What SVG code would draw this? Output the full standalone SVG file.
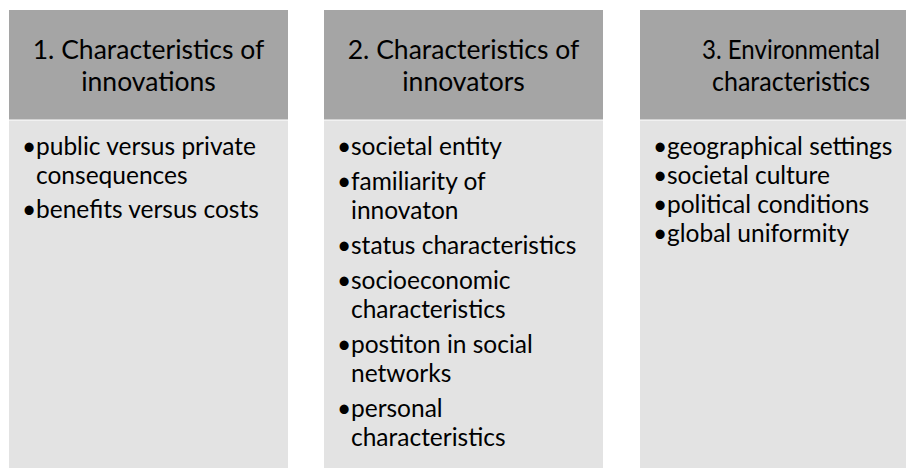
<svg xmlns="http://www.w3.org/2000/svg" width="906" height="468" viewBox="0 0 906 468">
<style>
.hd{fill:#a5a5a5}
.bd{fill:#e3e3e3}
.ht{font-family:Lato,"Open Sans","Liberation Sans",sans-serif;font-size:26.5px;fill:#000;text-anchor:middle}
.bt{font-family:Lato,"Open Sans","Liberation Sans",sans-serif;font-size:24.5px;fill:#000}
</style>
<rect width="906" height="468" fill="#ffffff"/>
<g id="col1">
<rect class="hd" x="9" y="10" width="279" height="109.5"/>
<rect class="bd" x="9" y="120.5" width="279" height="348"/>
<text class="ht" x="148.5" y="59">1. Characteristics of</text>
<text class="ht" x="148.5" y="91">innovations</text>
<text class="bt" x="22" y="155">•</text><text class="bt" x="36" y="155">public versus private</text>
<text class="bt" x="36" y="184">consequences</text>
<text class="bt" x="22" y="218">•</text><text class="bt" x="36" y="218">benefits versus costs</text>
</g>
<g id="col2">
<rect class="hd" x="324" y="10" width="279" height="109.5"/>
<rect class="bd" x="324" y="120.5" width="279" height="348"/>
<text class="ht" x="463.5" y="59">2. Characteristics of</text>
<text class="ht" x="463.5" y="91">innovators</text>
<text class="bt" x="337" y="155">•</text><text class="bt" x="351" y="155">societal entity</text>
<text class="bt" x="337" y="190">•</text><text class="bt" x="351" y="190">familiarity of</text>
<text class="bt" x="351" y="219">innovaton</text>
<text class="bt" x="337" y="254">•</text><text class="bt" x="351" y="254">status characteristics</text>
<text class="bt" x="337" y="289">•</text><text class="bt" x="351" y="289">socioeconomic</text>
<text class="bt" x="351" y="318">characteristics</text>
<text class="bt" x="337" y="353">•</text><text class="bt" x="351" y="353">postiton in social</text>
<text class="bt" x="351" y="382">networks</text>
<text class="bt" x="337" y="417">•</text><text class="bt" x="351" y="417">personal</text>
<text class="bt" x="351" y="446">characteristics</text>
</g>
<g id="col3">
<rect class="hd" x="640" y="10" width="306" height="109.5"/>
<rect class="bd" x="640" y="120.5" width="306" height="348"/>
<text class="ht" x="791" y="59" textLength="178" lengthAdjust="spacingAndGlyphs">3. Environmental</text>
<text class="ht" x="791" y="91" textLength="158" lengthAdjust="spacingAndGlyphs">characteristics</text>
<text class="bt" x="653" y="155">•</text><text class="bt" x="667" y="155">geographical settings</text>
<text class="bt" x="653" y="184">•</text><text class="bt" x="667" y="184">societal culture</text>
<text class="bt" x="653" y="213">•</text><text class="bt" x="667" y="213">political conditions</text>
<text class="bt" x="653" y="242">•</text><text class="bt" x="667" y="242">global uniformity</text>
</g>
<g id="connectors"></g>
</svg>
